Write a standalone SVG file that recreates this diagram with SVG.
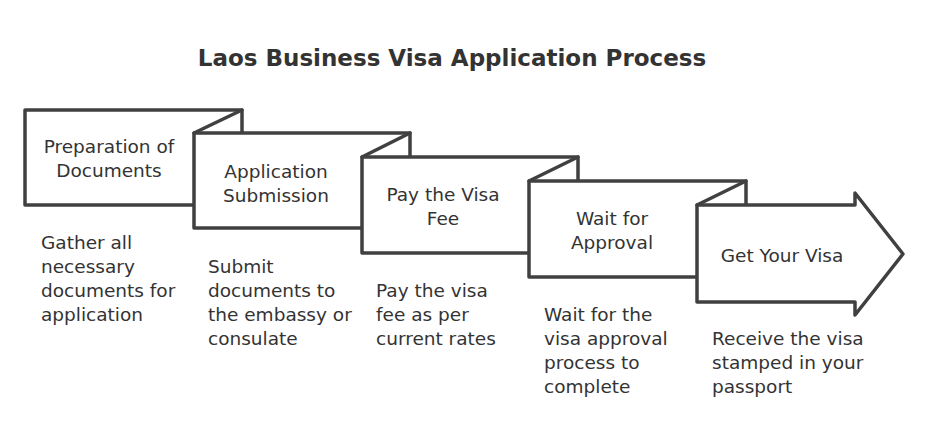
<svg xmlns="http://www.w3.org/2000/svg" width="929" height="448" viewBox="0 0 929 448">
<style>
.box{fill:#fff;stroke:#404040;stroke-width:3.5;stroke-linejoin:round}
.fold{fill:none;stroke:#404040;stroke-width:3.5;stroke-linecap:round}
.lbl{font-family:"DejaVu Sans",sans-serif;font-size:18.5px;fill:#333;text-anchor:middle}
.desc{font-family:"DejaVu Sans",sans-serif;font-size:18.5px;fill:#333}
.title{font-family:"DejaVu Sans",sans-serif;font-size:23px;font-weight:bold;fill:#333;text-anchor:middle}
</style>
<rect width="929" height="448" fill="#fff"/>
<text class="title" x="452" y="66">Laos Business Visa Application Process</text>
<g id="node1">
<rect class="box" x="25" y="110" width="217" height="95"/>
<path class="fold" d="M242 110 L194 133"/>
<text class="lbl" x="109" y="153">Preparation of</text>
<text class="lbl" x="109" y="177">Documents</text>
<text class="desc" x="41" y="249">Gather all</text>
<text class="desc" x="41" y="273">necessary</text>
<text class="desc" x="41" y="297">documents for</text>
<text class="desc" x="41" y="321">application</text>
</g>
<g id="node2">
<rect class="box" x="194" y="133" width="216" height="95"/>
<path class="fold" d="M410 133 L362 157"/>
<text class="lbl" x="276" y="178">Application</text>
<text class="lbl" x="276" y="202">Submission</text>
<text class="desc" x="208" y="273">Submit</text>
<text class="desc" x="208" y="297">documents to</text>
<text class="desc" x="208" y="321">the embassy or</text>
<text class="desc" x="208" y="345">consulate</text>
</g>
<g id="node3">
<rect class="box" x="362" y="157" width="216" height="96"/>
<path class="fold" d="M578 157 L529 181"/>
<text class="lbl" x="443" y="201">Pay the Visa</text>
<text class="lbl" x="443" y="225">Fee</text>
<text class="desc" x="376" y="297">Pay the visa</text>
<text class="desc" x="376" y="321">fee as per</text>
<text class="desc" x="376" y="345">current rates</text>
</g>
<g id="node4">
<rect class="box" x="529" y="181" width="217" height="96"/>
<path class="fold" d="M746 181 L697 205"/>
<text class="lbl" x="612" y="225">Wait for</text>
<text class="lbl" x="612" y="249">Approval</text>
<text class="desc" x="544" y="321">Wait for the</text>
<text class="desc" x="544" y="345">visa approval</text>
<text class="desc" x="544" y="369">process to</text>
<text class="desc" x="544" y="393">complete</text>
</g>
<g id="node5">
<path class="box" d="M697 205 L855 205 L855 193 L903 254 L855 315 L855 302 L697 302 Z"/>
<text class="lbl" x="782" y="262">Get Your Visa</text>
<text class="desc" x="712" y="345">Receive the visa</text>
<text class="desc" x="712" y="369">stamped in your</text>
<text class="desc" x="712" y="393">passport</text>
</g>
<g id="connectors"></g>
</svg>
